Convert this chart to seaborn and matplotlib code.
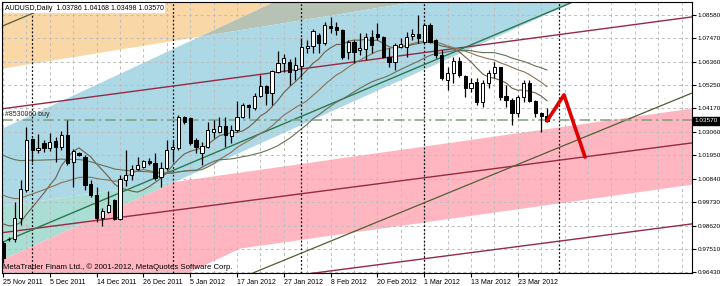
import numpy as np
import pandas as pd
import matplotlib
matplotlib.use("Agg")
import matplotlib.pyplot as plt
import matplotlib.transforms as mtransforms
import seaborn as sns

# ---------------- data ----------------
opens = [0.9780, 0.9799, 0.9799, 0.9898, 1.0030, 1.0272, 1.0219, 1.0253, 1.0229, 1.0262,
         1.0234, 1.0290, 1.0163, 1.0205, 1.0186, 1.0059, 1.0007, 0.9898, 0.9926, 0.9983,
         0.9893, 1.0078, 1.0101, 1.0130, 1.0139, 1.0168, 1.0158, 1.0092, 1.0134, 1.0224,
         1.0229, 1.0376, 1.0371, 1.0267, 1.0205, 1.0234, 1.0305, 1.0305, 1.0333, 1.0286,
         1.0314, 1.0376, 1.0432, 1.0418, 1.0475, 1.0522, 1.0489, 1.0588, 1.0631, 1.0636,
         1.0598, 1.0617, 1.0702, 1.0711, 1.0763, 1.0726, 1.0806, 1.0801, 1.0787, 1.0683,
         1.0730, 1.0693, 1.0697, 1.0754, 1.0768, 1.0754, 1.0659, 1.0636, 1.0707, 1.0707,
         1.0759, 1.0768, 1.0730, 1.0811, 1.0740, 1.0669, 1.0551, 1.0584, 1.0641, 1.0570,
         1.0513, 1.0541, 1.0447, 1.0536, 1.0584, 1.0612, 1.0475, 1.0456, 1.0394, 1.0470,
         1.0536, 1.0451, 1.0394, 1.03786]
highs = [0.9789, 0.9808, 0.9974, 1.0078, 1.0328, 1.0276, 1.0295, 1.0267, 1.0300, 1.0281,
         1.0309, 1.0361, 1.0224, 1.0210, 1.0196, 1.0078, 1.0044, 0.9945, 1.0025, 0.9988,
         1.0101, 1.0219, 1.0149, 1.0186, 1.0172, 1.0182, 1.0205, 1.0163, 1.0267, 1.0262,
         1.0385, 1.0380, 1.0376, 1.0276, 1.0257, 1.0352, 1.0361, 1.0376, 1.0376, 1.0338,
         1.0451, 1.0442, 1.0437, 1.0489, 1.0574, 1.0527, 1.0598, 1.0688, 1.0674, 1.0650,
         1.0659, 1.0749, 1.0740, 1.0792, 1.0773, 1.0825, 1.0849, 1.0825, 1.0792, 1.0740,
         1.0740, 1.0773, 1.0773, 1.0787, 1.0820, 1.0759, 1.0702, 1.0726, 1.0749, 1.0778,
         1.0792, 1.0858, 1.0820, 1.0820, 1.0745, 1.0693, 1.0612, 1.0659, 1.0659, 1.0574,
         1.0560, 1.0560, 1.0551, 1.0598, 1.0636, 1.0612, 1.0527, 1.0465, 1.0480, 1.0551,
         1.0551, 1.0456, 1.0399, 1.04168]
lows = [0.9685, 0.9789, 0.9784, 0.9865, 1.0021, 1.0163, 1.0205, 1.0210, 1.0215, 1.0163,
        1.0219, 1.0149, 1.0044, 1.0191, 1.0030, 0.9997, 0.9879, 0.9860, 0.9922, 0.9888,
        0.9888, 1.0049, 1.0078, 1.0125, 1.0134, 1.0149, 1.0078, 1.0044, 1.0125, 1.0163,
        1.0219, 1.0343, 1.0243, 1.0205, 1.0149, 1.0229, 1.0276, 1.0300, 1.0234, 1.0253,
        1.0305, 1.0371, 1.0371, 1.0409, 1.0470, 1.0432, 1.0432, 1.0584, 1.0588, 1.0527,
        1.0551, 1.0565, 1.0678, 1.0678, 1.0678, 1.0716, 1.0773, 1.0763, 1.0650, 1.0650,
        1.0631, 1.0669, 1.0645, 1.0678, 1.0740, 1.0655, 1.0612, 1.0598, 1.0702, 1.0659,
        1.0740, 1.0726, 1.0726, 1.0726, 1.0655, 1.0551, 1.0503, 1.0536, 1.0565, 1.0470,
        1.0494, 1.0432, 1.0423, 1.0513, 1.0560, 1.0456, 1.0423, 1.0338, 1.0376, 1.0447,
        1.0447, 1.0376, 1.0305, 1.03498]
closes = [0.9709, 0.9799, 0.9898, 1.0035, 1.0267, 1.0219, 1.0229, 1.0229, 1.0257, 1.0234,
          1.0290, 1.0158, 1.0215, 1.0196, 1.0054, 1.0007, 0.9898, 0.9931, 0.9959, 0.9893,
          1.0082, 1.0101, 1.0130, 1.0149, 1.0168, 1.0158, 1.0087, 1.0134, 1.0219, 1.0234,
          1.0376, 1.0352, 1.0253, 1.0234, 1.0238, 1.0314, 1.0319, 1.0333, 1.0290, 1.0314,
          1.0376, 1.0432, 1.0423, 1.0475, 1.0522, 1.0489, 1.0593, 1.0631, 1.0655, 1.0588,
          1.0622, 1.0707, 1.0711, 1.0782, 1.0726, 1.0811, 1.0797, 1.0787, 1.0659, 1.0730,
          1.0683, 1.0702, 1.0754, 1.0716, 1.0754, 1.0659, 1.0636, 1.0716, 1.0721, 1.0754,
          1.0768, 1.0749, 1.0811, 1.0730, 1.0669, 1.0560, 1.0584, 1.0641, 1.0574, 1.0513,
          1.0536, 1.0447, 1.0536, 1.0584, 1.0612, 1.0470, 1.0456, 1.0394, 1.0470, 1.0536,
          1.0451, 1.0394, 1.0380, 1.03570]

date_tick_bars = [0, 8, 16, 24, 32, 40, 48, 56, 64, 72, 80, 88]
date_labels = ['25 Nov 2011', '5 Dec 2011', '14 Dec 2011', '26 Dec 2011', '5 Jan 2012',
               '17 Jan 2012', '27 Jan 2012', '8 Feb 2012', '20 Feb 2012', '1 Mar 2012',
               '13 Mar 2012', '23 Mar 2012']
month_separators = [5, 29, 51, 72, 95]
price_ticks = [1.08580, 1.07470, 1.06360, 1.05250, 1.04170, 1.03060,
               1.01950, 1.00840, 0.99730, 0.98620, 0.97510, 0.96430]

ma_periods = [10, 21, 34]
ma_start_levels = [0.9888, 1.0021, 1.0210]

# chart objects: anchor points (bar index, price)
orange_edge = [(-0.17, 1.0607), (69.9, 1.0920)]
blue_upper = [(-0.51, 1.0319), (46.15, 1.0920)]
blue_lower = [(-0.51, 0.9699), (97.44, 1.0920)]
pink_upper = [(40.51, 1.0115), (117.78, 1.0418)]
pink_lower = [(20.0, 0.9491), (40.51, 0.9756), (119.0, 1.0063)]
maroon_lines = [[(-0.51, 1.0413), (117.78, 1.0849)],
                [(-0.51, 0.9827), (117.78, 1.0253)],
                [(53.33, 0.9638), (117.78, 0.9870)]]
green_line = [(0.0, 0.9784), (97.44, 1.0920)]
olive_lines = [[(42.74, 0.9638), (117.78, 1.0489)],
               [(-0.51, 1.0801), (9.74, 1.0920)]]
forecast_x = [93, 95.9, 99.5]
forecast_y = [1.0357, 1.0480, 1.0186]
order_price = 1.0362
last_price = 1.03570

# ---------------- styling ----------------
sns.set_theme(style="white")
plt.rcParams['font.family'] = ['Liberation Sans', 'DejaVu Sans']

fig = plt.figure(figsize=(7.2, 2.86), dpi=100)
fig.patch.set_facecolor('white')
ax = fig.add_axes([2 / 720, 13 / 286, 690 / 720, 271 / 286])
XL, XR = -0.17, 117.78
YB, YT = 0.96377, 1.09195
ax.set_xlim(XL, XR)
ax.set_ylim(YB, YT)
ax.set_facecolor('white')

xs = np.linspace(XL - 1, XR + 1, 1200)


def edge(pts):
    px = [p[0] for p in pts]
    py = [p[1] for p in pts]
    if len(pts) == 2:
        s = (py[1] - py[0]) / (px[1] - px[0])
        return py[0] + s * (xs - px[0])
    return np.interp(xs, px, py)


Lo = edge(orange_edge)
Ub = edge(blue_upper)
Lb = edge(blue_lower)
Up = edge(pink_upper)
Lp = edge(pink_lower)
top = np.full_like(xs, YT + 0.01)


def band(lo, hi, color):
    ax.fill_between(xs, lo, hi, where=lo < hi, color=color, lw=0,
                    interpolate=True, zorder=0)


band(np.maximum(Lo, Ub), top, '#FAD7A6')                       # orange
band(Lo, np.minimum(Ub, top), '#B6C2B3')                        # orange+blue
band(np.maximum(Lb, Up), np.minimum(Ub, Lo), '#ADD8E6')         # blue
band(np.maximum(Lb, Lp), np.minimum(np.minimum(Up, Ub), Lo), '#AADDD3')  # blue+pink
band(Lp, np.minimum(Up, Lb), '#FFB6C1')                         # pink

# grid
for p in price_ticks:
    ax.axhline(p, color='#BDBDBD', lw=0.7, ls=(0, (3, 3)), zorder=1)
for gx in np.arange(0, 120, 4):
    ax.axvline(gx, color='#BDBDBD', lw=0.7, ls=(0, (3, 3)), zorder=1)
for sx in month_separators:
    ax.axvline(sx, color='#111111', lw=0.9, ls=(0, (1.5, 1.6)), zorder=1.5)


def draw_line(pts, color, lw):
    (x0, y0), (x1, y1) = pts
    s = (y1 - y0) / (x1 - x0)
    lx = np.array([XL - 2, XR + 2])
    sns.lineplot(x=lx, y=y0 + s * (lx - x0), ax=ax, color=color, lw=lw, zorder=2)


for ml in maroon_lines:
    draw_line(ml, '#952A45', 1.0)
draw_line(green_line, '#2A7A4C', 1.0)
for ol in olive_lines:
    draw_line(ol, '#4F5F35', 0.9)

# order line
ax.axhline(order_price, color='#7F9F7F', lw=1.1, ls=(0, (7, 2.5, 1.5, 2.5)), zorder=2)
ax.text(0.4, order_price + 0.0007, '#8530060 buy', fontsize=5, color='#222222',
        va='bottom', ha='left', zorder=7)

# moving averages
idx = np.arange(len(closes))
ma_colors = ['#6E5E48', '#8B7355', '#66705A']
for N, seed, col in zip(ma_periods, ma_start_levels, ma_colors):
    s = pd.Series([seed] * (N - 1) + closes).rolling(N).mean().iloc[N - 1:].to_numpy()
    sns.lineplot(x=idx, y=s, ax=ax, color=col, lw=0.8, zorder=3)

# candles
o = np.array(opens); h = np.array(highs); l = np.array(lows); c = np.array(closes)
ax.vlines(idx, l, h, color='black', lw=0.9, zorder=4)
up = c >= o
ax.bar(idx, np.abs(c - o), bottom=np.minimum(o, c), width=0.55,
       color=np.where(up, 'white', 'black'), edgecolor='black', linewidth=0.7, zorder=5)

# forecast
sns.lineplot(x=forecast_x, y=forecast_y, ax=ax, color='#E00000', lw=2.6, sort=False,
             zorder=6)

# axes
for sp in ax.spines.values():
    sp.set_color('black')
    sp.set_linewidth(0.8)
    sp.set_visible(True)
ax.yaxis.tick_right()
ax.set_yticks(price_ticks)
ax.set_yticklabels([f'{p:.5f}' for p in price_ticks])
ax.tick_params(axis='y', which='both', right=True, left=False, length=3, width=0.8,
               pad=1.0, labelsize=4.6, colors='black', direction='out')
ax.set_xticks(date_tick_bars)
ax.set_xticklabels(date_labels)
ax.tick_params(axis='x', bottom=True, length=3, width=0.8, pad=1.5, labelsize=5,
               colors='black', direction='out')
for lbl in ax.get_xticklabels():
    lbl.set_horizontalalignment('left')
ax.set_xlabel('')
ax.set_ylabel('')
ax.grid(False)

trans = mtransforms.blended_transform_factory(ax.transAxes, ax.transData)
ax.text(1.004, last_price, f'{last_price:.5f}', transform=trans, fontsize=4.6,
        color='white', va='center', ha='left', clip_on=False, zorder=10,
        bbox=dict(boxstyle='square,pad=0.3', fc='black', ec='black'))

fig.text(5 / 720, 1 - 8 / 286, 'AUDUSD,Daily  1.03786 1.04168 1.03498 1.03570',
         fontsize=5, va='center', ha='left', color='black',
         bbox=dict(fc='white', ec='none', pad=1.0), zorder=10)
fig.text(3 / 720, 1 - 267 / 286,
         'MetaTrader Finam Ltd., © 2001-2012, MetaQuotes Software Corp.',
         fontsize=5.6, va='center', ha='left', color='black', zorder=10)

fig.savefig('out.png', dpi=100, facecolor='white')
